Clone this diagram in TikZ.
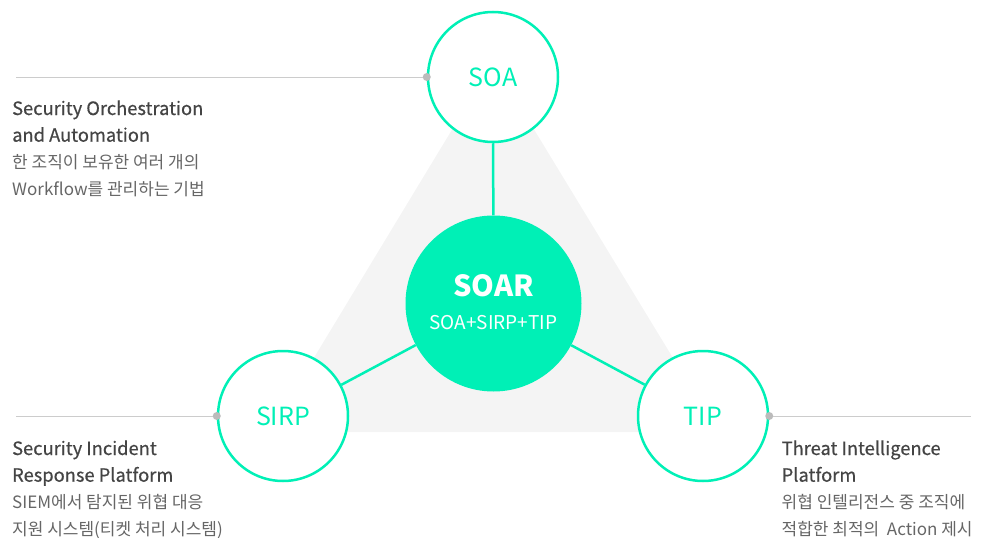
\documentclass[tikz,border=0pt]{standalone}
\usepackage{fontspec}
\setmainfont{Noto Sans CJK KR}
\newfontfamily\ttlfont[FakeBold=0.6]{Noto Sans CJK KR}
\definecolor{mint}{HTML}{00F0B6}
\definecolor{tri}{HTML}{F4F4F4}
\definecolor{ttl}{HTML}{444444}
\definecolor{sub}{HTML}{666666}
\definecolor{gl}{HTML}{CCCCCC}
\definecolor{gd}{HTML}{BBBBBB}
\begin{document}
\begin{tikzpicture}[x=1pt,y=-1pt,
  ring/.style={circle,draw=mint,line width=2.5pt,fill=white,minimum size=130pt,inner sep=0pt,text=mint,font=\fontsize{25}{28}\selectfont},
  hub/.style={circle,fill=mint,minimum size=176pt,inner sep=0pt},
  link/.style={draw=mint,line width=2.5pt},
  gline/.style={draw=gl,line width=1pt},
  gdot/.style={circle,fill=gd,minimum size=8pt,inner sep=0pt},
  ttlt/.style={anchor=base west,inner sep=0pt,text=ttl,font=\ttlfont\fontsize{18.3}{22}\selectfont},
  subt/.style={anchor=base west,inner sep=0pt,text=sub,font=\fontsize{17}{20}\selectfont}]
\useasboundingbox (0,0) rectangle (983,538);
\fill[tri] (493,62) -- (269,432) -- (718,432) -- cycle;
\node[ring] (soa) at (493,77) {SOA};
\node[ring] (sirp) at (283,416) {SIRP};
\node[ring] (tip) at (703,416) {TIP};
\node[hub] (soar) at (493.5,303.5) {};
\node[anchor=base,inner sep=0pt,text=white,font=\fontsize{29}{32}\bfseries] (soart) at (493.5,296.5) {SOAR};
\node[anchor=base,inner sep=0pt,text=white,font=\fontsize{19}{22}\selectfont] (soarsub) at (493.5,329.5) {SOA+SIRP+TIP};
\draw[link] (soa) -- (soar);
\draw[link] (soar) -- (sirp);
\draw[link] (soar) -- (tip);
\node[gdot] (d1) at (soa.west) {};
\node[gdot] (d2) at (sirp.west) {};
\node[gdot] (d3) at (tip.east) {};
\coordinate (e1) at (16,77);
\coordinate (e2) at (16,416);
\coordinate (e3) at (971,416);
\draw[gline] (e1) -- (d1);
\draw[gline] (e2) -- (d2);
\draw[gline] (d3) -- (e3);
\node[ttlt] (a1) at (12,115) {Security Orchestration};
\node[ttlt] (a2) at (12,141.7) {and Automation};
\node[subt] (a3) at (12,168.3) {한 조직이 보유한 여러 개의};
\node[subt] (a4) at (12,195) {Workflow를 관리하는 기법};
\node[ttlt] (b1) at (12,455) {Security Incident};
\node[ttlt] (b2) at (12,481.7) {Response Platform};
\node[subt] (b3) at (12,508.3) {SIEM에서 탐지된 위협 대응};
\node[subt] (b4) at (12,535) {지원 시스템(티켓 처리 시스템)};
\node[ttlt] (c1) at (781.5,455) {Threat Intelligence};
\node[ttlt] (c2) at (781.5,481.7) {Platform};
\node[subt] (c3) at (781.5,508.3) {위협 인텔리전스 중 조직에};
\node[subt] (c4) at (781.5,535) {적합한 최적의\ \ Action 제시};
\end{tikzpicture}
\end{document}
